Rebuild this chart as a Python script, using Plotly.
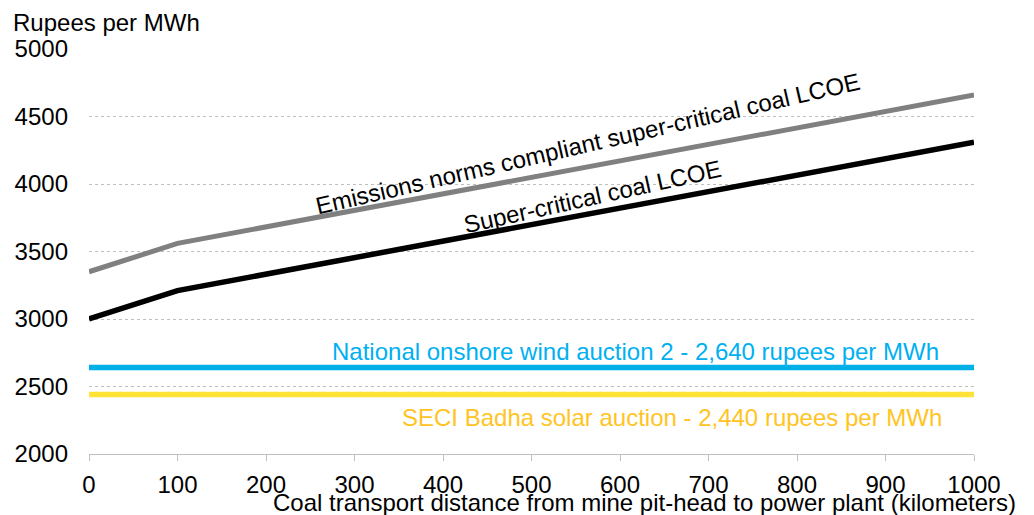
import plotly.graph_objects as go

distance_km = [0, 100, 1000]
emissions_compliant_lcoe = [3350, 3560, 4660]
supercritical_lcoe = [3000, 3210, 4310]
wind_x = [0, 1000]
wind_auction = [2640, 2640]
solar_x = [0, 1000]
solar_auction = [2440, 2440]

x_ticks = [0, 100, 200, 300, 400, 500, 600, 700, 800, 900, 1000]
y_ticks = [2000, 2500, 3000, 3500, 4000, 4500, 5000]

FONT = "Liberation Sans, Arial, sans-serif"
FS = 24

# the page body adds an 8px offset; compensate so the picture lands at 1034x515
OFF = 8
W, H = 1034 - OFF, 515 - OFF
L, R, T, B = 89 - OFF, 60, 49 - OFF, 61
PW = W - L - R
PH = H - T - B


def px_x(p):
    return (p - OFF - L) / PW


def px_y(p):
    return (H - B - (p - OFF)) / PH


fig = go.Figure()
fig.add_trace(go.Scatter(x=distance_km, y=emissions_compliant_lcoe, mode="lines",
                         line=dict(color="#808080", width=5), showlegend=False))
fig.add_trace(go.Scatter(x=distance_km, y=supercritical_lcoe, mode="lines",
                         line=dict(color="#000000", width=5.5), showlegend=False))
fig.add_trace(go.Scatter(x=wind_x, y=wind_auction, mode="lines",
                         line=dict(color="#00B0E6", width=5.5), showlegend=False))
fig.add_trace(go.Scatter(x=solar_x, y=solar_auction, mode="lines",
                         line=dict(color="#FFE236", width=5.5), showlegend=False))

annotations = [
    dict(text="Emissions norms compliant super-critical coal LCOE", x=564, y=4300,
         xref="x", yref="y", showarrow=False, textangle=-13,
         font=dict(family=FONT, size=FS, color="#000000")),
    dict(text="Super-critical coal LCOE", x=569, y=3910,
         xref="x", yref="y", showarrow=False, textangle=-12.5,
         font=dict(family=FONT, size=FS, color="#000000")),
    dict(text="National onshore wind auction 2 - 2,640 rupees per MWh", x=617, y=2756,
         xref="x", yref="y", showarrow=False, xanchor="center", yanchor="middle",
         font=dict(family=FONT, size=FS, color="#00B0F0")),
    dict(text="SECI Badha solar auction - 2,440 rupees per MWh", x=659, y=2274,
         xref="x", yref="y", showarrow=False, xanchor="center", yanchor="middle",
         font=dict(family=FONT, size=FS, color="#FFC423")),
    dict(text="Rupees per MWh", x=px_x(11), y=px_y(22), xref="paper", yref="paper",
         showarrow=False, xanchor="left", yanchor="middle",
         font=dict(family=FONT, size=FS, color="#000000")),
    dict(text="Coal transport distance from mine pit-head to power plant (kilometers)",
         x=px_x(1018), y=px_y(503), xref="paper", yref="paper",
         showarrow=False, xanchor="right", yanchor="middle",
         font=dict(family=FONT, size=FS, color="#000000")),
]

fig.update_layout(
    width=W, height=H,
    margin=dict(l=L, r=R, t=T, b=B, autoexpand=False),
    paper_bgcolor="white", plot_bgcolor="white",
    font=dict(family=FONT, size=FS, color="#000000"),
    annotations=annotations,
    showlegend=False,
)
fig.update_xaxes(range=[0, 1000], tickvals=x_ticks, ticktext=[str(v) for v in x_ticks],
                 showgrid=False, zeroline=False, showline=True, linecolor="#BFBFBF",
                 linewidth=1, ticks="outside", ticklen=6, tickcolor="#BFBFBF",
                 ticklabelstandoff=3, automargin=False,
                 tickfont=dict(family=FONT, size=FS, color="#000000"))
fig.update_yaxes(range=[2000, 5000], tickvals=y_ticks, ticktext=[str(v) for v in y_ticks],
                 showgrid=True, gridcolor="#BFBFBF", griddash="dot", gridwidth=1,
                 zeroline=False, showline=False, ticks="", ticklabelstandoff=20,
                 automargin=False,
                 tickfont=dict(family=FONT, size=FS, color="#000000"))

fig.write_html("out.html")
